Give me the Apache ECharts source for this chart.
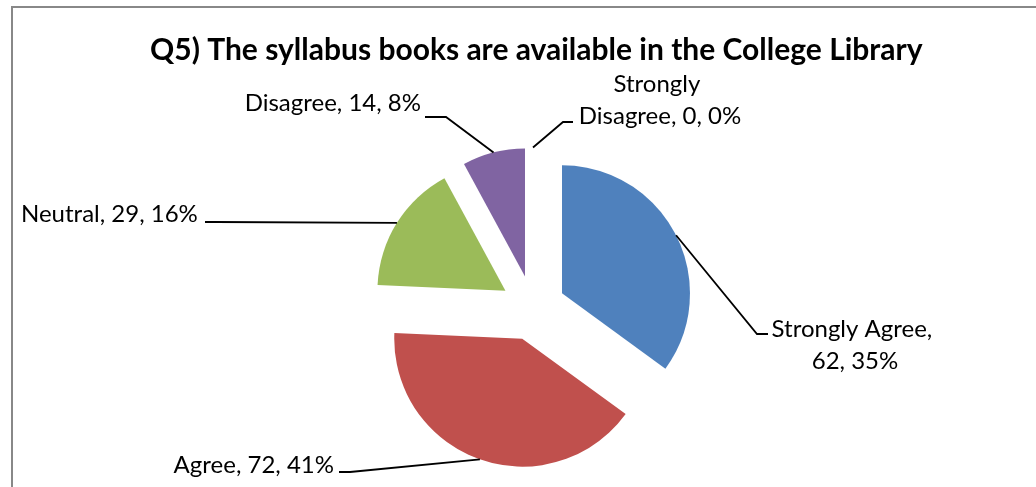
<!DOCTYPE html>
<html><head><meta charset="utf-8">
<script src="https://cdn.jsdelivr.net/npm/echarts@6/dist/echarts.min.js"></script>
<style>html,body{margin:0;padding:0;background:#fff}#c{width:1036px;height:487px}</style>
</head><body><div id="c"></div>
<script>
const categories = ['Strongly Agree', 'Agree', 'Neutral', 'Disagree', 'Strongly Disagree'];
const values = [62, 72, 29, 14, 0];
const colors = ['#4F81BD', '#C0504D', '#9BBB59', '#8064A2', '#4BACC6'];
const titleText = 'Q5) The syllabus books are available in the College Library';

const CX = 533, CY = 308, R = 128, OFF = 32.5;
const FONT = 'Lato';
// label placement (layout only)
const labelPlace = [
  { x: 855, y: 345, align: 'center', w: 175, end: [768, 334], elbow: [757, 334] },
  { x: 334, y: 465, align: 'right', w: null, end: [339, 472], elbow: [350, 472] },
  { x: 21, y: 214, align: 'left', w: null, end: [205, 222], elbow: [215, 222] },
  { x: 421, y: 103, align: 'right', w: null, end: [425, 117], elbow: [446, 117] },
  { x: 660, y: 100, align: 'center', w: 175, end: [573, 122], elbow: [563, 122] }
];

const total = values.reduce((a, b) => a + b, 0);
const anchors = [];
let cum = 0;
values.forEach(v => {
  const mid = (cum + v / 2) / total * Math.PI * 2;
  cum += v;
  anchors.push([CX + Math.sin(mid) * (R + OFF), CY - Math.cos(mid) * (R + OFF)]);
});

// slices (exploded)
const sliceData = categories.map((name, i) => ({
  name: name, value: values[i], selected: true, itemStyle: { color: colors[i] }
}));
// labels (same values, invisible sectors)
const labelData = categories.map((name, i) => {
  const item = { name: name, value: values[i] };
  if (labelPlace[i].w) item.label = { width: labelPlace[i].w, overflow: 'break' };
  return item;
});

const chart = echarts.init(document.getElementById('c'), null, { renderer: 'canvas' });
chart.setOption({
  animation: false,
  backgroundColor: '#ffffff',
  title: {
    text: titleText,
    left: 150,
    top: 35,
    padding: 0,
    textStyle: { fontFamily: FONT, fontWeight: 'bold', fontSize: 30, color: '#000' }
  },
  graphic: [{
    type: 'rect', silent: true, z: -1,
    shape: { x: 12, y: 7, width: 1100, height: 600 },
    style: { fill: 'none', stroke: '#888888', lineWidth: 2 }
  }],
  series: [{
    type: 'pie',
    center: [CX, CY],
    radius: R,
    startAngle: 90,
    clockwise: true,
    selectedMode: 'multiple',
    selectedOffset: OFF,
    data: sliceData,
    label: { show: false },
    labelLine: { show: false },
    emphasis: { disabled: true },
    silent: true
  }, {
    type: 'pie',
    center: [CX, CY],
    radius: R,
    startAngle: 90,
    clockwise: true,
    selectedMode: false,
    percentPrecision: 0,
    avoidLabelOverlap: false,
    silent: true,
    z: 3,
    data: labelData,
    itemStyle: { color: 'rgba(0,0,0,0)', borderWidth: 0 },
    label: {
      show: true,
      position: 'outside',
      formatter: '{b}, {c}, {d}%',
      fontFamily: FONT,
      fontSize: 24,
      lineHeight: 32,
      color: '#000',
      opacity: 1
    },
    labelLine: { show: true, lineStyle: { color: '#000', width: 1.8, opacity: 1 } },
    emphasis: { disabled: true },
    labelLayout: function (p) {
      const i = p.dataIndex;
      const lp = labelPlace[i];
      return {
        x: lp.x, y: lp.y, align: lp.align, verticalAlign: 'middle',
        labelLinePoints: [anchors[i], lp.elbow, lp.end]
      };
    }
  }]
});
</script></body></html>
